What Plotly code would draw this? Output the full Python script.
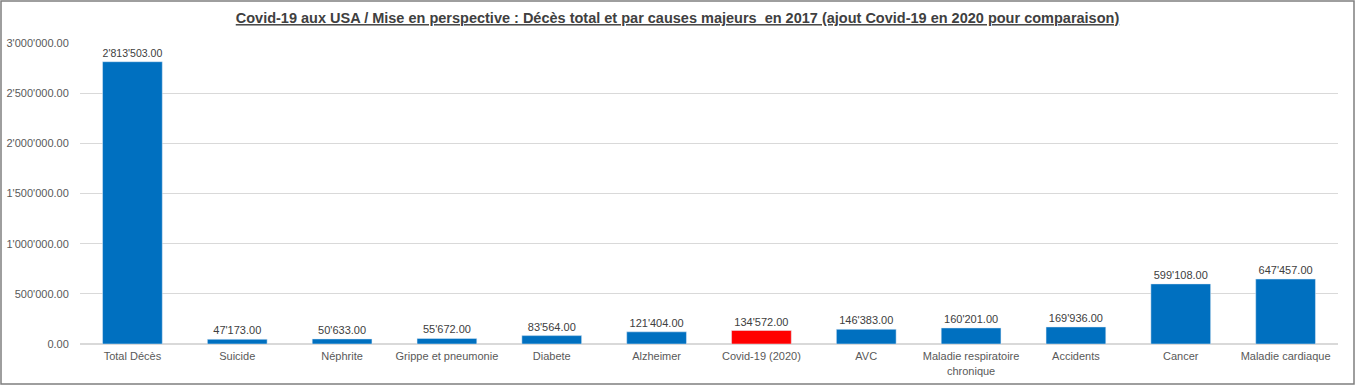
import plotly.graph_objects as go

categories = ["Total Décès", "Suicide", "Néphrite", "Grippe et pneumonie", "Diabete",
              "Alzheimer", "Covid-19 (2020)", "AVC", "Maladie respiratoire<br>chronique",
              "Accidents", "Cancer", "Maladie cardiaque"]
values = [2813503, 47173, 50633, 55672, 83564, 121404, 134572, 146383, 160201, 169936, 599108, 647457]
colors = ["#0070C0"] * len(values)
colors[6] = "#FF0000"

fig = go.Figure(go.Bar(
    x=categories, y=values, marker_color=colors, width=0.57,
    texttemplate="%{y:,.2f}", textposition="outside",
    textfont=dict(family="Liberation Sans, Arial", size=11, color="#404040"),
    cliponaxis=False,
))

W, H = 1355, 385
ml, mr, mt, mb = 80, 17, 43, 41
pw = W - ml - mr
ph = H - mt - mb

fig.update_layout(
    width=W, height=H,
    margin=dict(l=ml, r=mr, t=mt, b=mb, autoexpand=False),
    paper_bgcolor="white", plot_bgcolor="white",
    separators=".'",
    font=dict(family="Liberation Sans, Arial", size=11, color="#595959"),
    title=dict(text="<u><b>Covid-19 aux USA / Mise en perspective : Décès total et par causes majeurs  en 2017 (ajout Covid-19 en 2020 pour comparaison)</b></u>",
               x=0.5, xanchor="center", y=1 - 18 / H, yanchor="middle",
               font=dict(family="Liberation Sans, Arial", size=14.5, color="#404040")),
    showlegend=False,
    shapes=[dict(type="rect", xref="paper", yref="paper",
                 x0=-(ml - 1) / pw, x1=1 + (mr - 1) / pw,
                 y0=-(mb - 1) / ph, y1=1 + (mt - 1) / ph,
                 line=dict(color="#7f7f7f", width=1.5), fillcolor="rgba(0,0,0,0)", layer="above")],
)
fig.update_yaxes(range=[0, 3000000], dtick=500000, tickformat=",.2f", automargin=False,
                 gridcolor="#d9d9d9", gridwidth=1, zeroline=True, zerolinecolor="#d9d9d9",
                 ticks="outside", ticklen=8, tickcolor="rgba(0,0,0,0)",
                 tickfont=dict(size=11, color="#595959"), showline=False)
fig.update_xaxes(showline=False, ticks="outside", ticklen=2, tickcolor="rgba(0,0,0,0)",
                 automargin=False, tickfont=dict(size=11, color="#595959"),
                 tickangle=0)

fig.write_html("out.html", config={"displayModeBar": False},
               post_script="document.body.style.margin='0';document.body.style.overflow='hidden';")
